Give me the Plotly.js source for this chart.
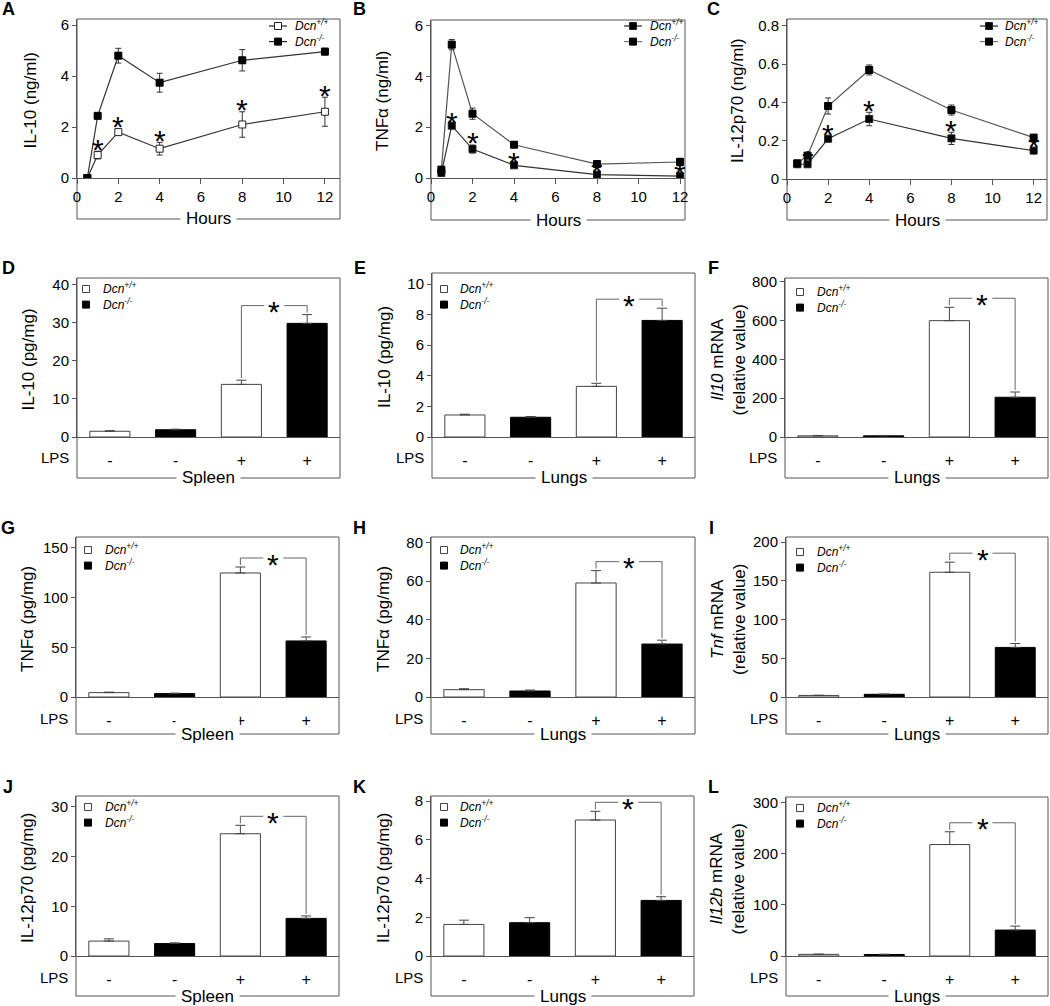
<!DOCTYPE html>
<html><head><meta charset="utf-8">
<script src="https://cdn.plot.ly/plotly-3.0.1.min.js"></script>
<style>html,body{margin:0;padding:0;background:#fff}</style>
</head><body><div id="chart" style="width:1050px;height:1006px"></div>
<script>
// ---------------- data ----------------
const hours = [0.5, 1, 2, 4, 8, 12];
const hourTicks = [0, 2, 4, 6, 8, 10, 12];
const lpsTicks = ['-', '-', '+', '+'];
const nameWT = '<i>Dcn<sup>+/+</sup></i>';
const nameKO = '<i>Dcn<sup>-/-</sup></i>';

// A: serum IL-10 (ng/ml)
const il10SerumWT    = [0, 0.9, 1.8, 1.15, 2.1, 2.6];
const il10SerumWTErr = [0, 0.15, 0.13, 0.25, 0.5, 0.57];
const il10SerumKO    = [0, 2.44, 4.8, 3.74, 4.62, 4.96];
const il10SerumKOErr = [0, 0.1, 0.29, 0.37, 0.42, 0.13];
const il10SerumStars = [1, 2, 4, 8, 12];
// B: serum TNFa (ng/ml)
const tnfSerumWT    = [0.2, 2.06, 1.14, 0.5, 0.13, 0.07];
const tnfSerumWTErr = [0.03, 0.05, 0.16, 0.05, 0.03, 0.03];
const tnfSerumKO    = [0.33, 5.25, 2.53, 1.31, 0.55, 0.63];
const tnfSerumKOErr = [0.05, 0.2, 0.22, 0.1, 0.05, 0.15];
const tnfSerumStars = [1, 2, 4, 8, 12];
// C: serum IL-12p70 (ng/ml)
const il12SerumWT    = [0.077, 0.077, 0.21, 0.313, 0.212, 0.148];
const il12SerumWTErr = [0.01, 0.01, 0.01, 0.035, 0.032, 0.01];
const il12SerumKO    = [0.082, 0.122, 0.381, 0.569, 0.36, 0.216];
const il12SerumKOErr = [0.01, 0.01, 0.042, 0.026, 0.026, 0.015];
const il12SerumStars = [1, 2, 4, 8, 12];

// bar panels: values for LPS - and LPS +
const il10SpleenWT = [1.5, 13.8],  il10SpleenWTErr = [0.15, 1.1];
const il10SpleenKO = [1.9, 29.8],  il10SpleenKOErr = [0.15, 2.3];
const il10LungWT   = [1.44, 3.31], il10LungWTErr   = [0.05, 0.2];
const il10LungKO   = [1.29, 7.62], il10LungKOErr   = [0.05, 0.8];
const il10mRNAWT   = [6, 600],     il10mRNAWTErr   = [2, 69];
const il10mRNAKO   = [6, 205],     il10mRNAKOErr   = [2, 27];
const tnfSpleenWT  = [4.4, 124.8], tnfSpleenWTErr  = [0.5, 6];
const tnfSpleenKO  = [3.4, 56.4],  tnfSpleenKOErr  = [0.5, 4];
const tnfLungWT    = [3.8, 59],    tnfLungWTErr    = [0.5, 6.4];
const tnfLungKO    = [3.1, 27.4],  tnfLungKOErr    = [0.5, 2];
const tnfmRNAWT    = [2, 161],     tnfmRNAWTErr    = [0.3, 13];
const tnfmRNAKO    = [3.5, 64],    tnfmRNAKOErr    = [0.3, 5];
const il12SpleenWT = [3.0, 24.6],  il12SpleenWTErr = [0.45, 1.7];
const il12SpleenKO = [2.5, 7.57],  il12SpleenKOErr = [0.15, 0.5];
const il12LungWT   = [1.63, 7.02], il12LungWTErr   = [0.22, 0.45];
const il12LungKO   = [1.72, 2.87], il12LungKOErr   = [0.26, 0.19];
const il12bmRNAWT  = [3.2, 218],   il12bmRNAWTErr  = [0.5, 25];
const il12bmRNAKO  = [3, 50.7],    il12bmRNAKOErr  = [0.5, 7.8];

// ---------------- layout helpers ----------------
const FONT = 'Liberation Sans, Arial, Helvetica, sans-serif';
const W = 1050, H = 1006;
const AX = '#555';
const px = v => v / W;
const py = v => 1 - v / H;
const LEG_FONT = 12;
const LEG_LINE = LEG_FONT * 1.3;

// box: [left, right, top, zeroLine, bottom] in pixels; leg: [symbolX, textX, row1Y]
const panels = [
 {letter:'A', lxy:[8,9],   kind:'line', box:[77,340,19,178,219], xr:[0,12.73], yr:[0,6.24], yt:[0,2,4,6], title:'IL-10 (ng/ml)', tx:30, foot:'Hours',
  wt:il10SerumWT, wtE:il10SerumWTErr, ko:il10SerumKO, koE:il10SerumKOErr, stars:il10SerumStars, open:true, leg:[278,293,26]},
 {letter:'B', lxy:[359,9], kind:'line', box:[431,685,20,178,220], xr:[0,12.24], yr:[0,6.22], yt:[0,2,4,6], title:'TNFα (ng/ml)', tx:382, foot:'Hours',
  wt:tnfSerumWT, wtE:tnfSerumWTErr, ko:tnfSerumKO, koE:tnfSerumKOErr, stars:tnfSerumStars, open:false, leg:[633,648,26]},
 {letter:'C', lxy:[713,9], kind:'line', box:[787,1047,19,179,220], xr:[0,12.65], yr:[0,0.835], yt:[0,0.2,0.4,0.6,0.8], title:'IL-12p70 (ng/ml)', tx:737, foot:'Hours',
  wt:il12SerumWT, wtE:il12SerumWTErr, ko:il12SerumKO, koE:il12SerumKOErr, stars:il12SerumStars, open:false, leg:[989,1003,26]},
 {letter:'D', lxy:[8,268],   kind:'bar', box:[77,340,278,437,478], yr:[0,41.7], yt:[0,10,20,30,40], title:'IL-10 (pg/mg)', tx:28, foot:'Spleen',
  wt:il10SpleenWT, wtE:il10SpleenWTErr, ko:il10SpleenKO, koE:il10SpleenKOErr, leg:[86,101,289]},
 {letter:'E', lxy:[360,268], kind:'bar', box:[432,695,273,437,478], yr:[0,10.72], yt:[0,2,4,6,8,10], title:'IL-10 (pg/mg)', tx:384, foot:'Lungs',
  wt:il10LungWT, wtE:il10LungWTErr, ko:il10LungKO, koE:il10LungKOErr, leg:[444,458,289]},
 {letter:'F', lxy:[713,268], kind:'bar', box:[785,1048,278,437,478], yr:[0,820], yt:[0,200,400,600,800], title:'<i>Il10</i> mRNA<br>(relative value)', tx:728, foot:'Lungs',
  wt:il10mRNAWT, wtE:il10mRNAWTErr, ko:il10mRNAKO, koE:il10mRNAKOErr, leg:[800,815,292]},
 {letter:'G', lxy:[8,528],   kind:'bar', box:[76,339,537,697,734], yr:[0,161], yt:[0,50,100,150], title:'TNFα (pg/mg)', tx:27, foot:'Spleen',
  wt:tnfSpleenWT, wtE:tnfSpleenWTErr, ko:tnfSpleenKO, koE:tnfSpleenKOErr, leg:[88,103,550]},
 {letter:'H', lxy:[359,528], kind:'bar', box:[431,695,537,697,734], yr:[0,82.8], yt:[0,20,40,60,80], title:'TNFα (pg/mg)', tx:383, foot:'Lungs',
  wt:tnfLungWT, wtE:tnfLungWTErr, ko:tnfLungKO, koE:tnfLungKOErr, leg:[444,458,550]},
 {letter:'I', lxy:[711,528], kind:'bar', box:[786,1048,537,697,734], yr:[0,206.5], yt:[0,50,100,150,200], title:'<i>Tnf</i> mRNA<br>(relative value)', tx:728, foot:'Lungs',
  wt:tnfmRNAWT, wtE:tnfmRNAWTErr, ko:tnfmRNAKO, koE:tnfmRNAKOErr, leg:[800,815,552]},
 {letter:'J', lxy:[8,787],   kind:'bar', box:[76,339,796,956,996], yr:[0,32.2], yt:[0,10,20,30], title:'IL-12p70 (pg/mg)', tx:27, foot:'Spleen',
  wt:il12SpleenWT, wtE:il12SpleenWTErr, ko:il12SpleenKO, koE:il12SpleenKOErr, leg:[88,103,807]},
 {letter:'K', lxy:[359,787], kind:'bar', box:[431,694,796,956,996], yr:[0,8.26], yt:[0,2,4,6,8], title:'IL-12p70 (pg/mg)', tx:383, foot:'Lungs',
  wt:il12LungWT, wtE:il12LungWTErr, ko:il12LungKO, koE:il12LungKOErr, leg:[444,458,807]},
 {letter:'L', lxy:[713,787], kind:'bar', box:[786,1048,797,956,996], yr:[0,311], yt:[0,100,200,300], title:'<i>Il12b</i> mRNA<br>(relative value)', tx:727, foot:'Lungs',
  wt:il12bmRNAWT, wtE:il12bmRNAWTErr, ko:il12bmRNAKO, koE:il12bmRNAKOErr, leg:[800,815,808]}
];

const traces = [];
const layout = {
  width: W, height: H, margin: {l:0, r:0, t:0, b:0},
  paper_bgcolor: '#fff', plot_bgcolor: 'rgba(0,0,0,0)',
  font: {family: FONT, size: 14, color: '#000'},
  barmode: 'overlay', showlegend: false,
  annotations: [], shapes: []
};

function pxRect(cx, cy, s, fill, stroke) {
  layout.shapes.push({type: 'rect', xref: 'paper', yref: 'paper',
    x0: px(cx - s / 2), x1: px(cx + s / 2), y0: py(cy + s / 2), y1: py(cy - s / 2),
    fillcolor: fill, line: {color: stroke, width: 1}});
}
function pxLine(x0, x1, y, color) {
  layout.shapes.push({type: 'line', xref: 'paper', yref: 'paper',
    x0: px(x0), x1: px(x1), y0: py(y), y1: py(y), line: {color: color, width: 1.2}});
}

const STAR = 30;
panels.forEach((p, i) => {
  const n = i + 1;
  const sx = n === 1 ? '' : String(n);
  const xa = 'x' + sx, ya = 'y' + sx;
  const [L, R, T, Z, B] = p.box;
  const isLine = p.kind === 'line';
  const xr = isLine ? p.xr : [-0.5, 3.5];

  layout['xaxis' + sx] = {
    domain: [px(L), px(R)], range: xr, anchor: ya,
    showline: true, linecolor: AX, linewidth: 1, mirror: false,
    ticks: 'outside', ticklen: isLine ? 5 : 9, tickcolor: isLine ? AX : 'rgba(0,0,0,0)', tickwidth: 1,
    tickmode: 'array',
    tickvals: isLine ? hourTicks : [0, 1, 2, 3],
    ticktext: isLine ? hourTicks.map(String) : lpsTicks,
    tickfont: {size: isLine ? 15 : 16, family: FONT},
    showgrid: false, zeroline: false, fixedrange: true
  };
  layout['yaxis' + sx] = {
    domain: [py(Z), py(T)], range: p.yr, anchor: xa,
    showline: true, linecolor: AX, linewidth: 1,
    ticks: 'outside', ticklen: 4, tickcolor: AX, tickwidth: 1,
    tickmode: 'array', tickvals: p.yt,
    tickfont: {size: 15, family: FONT},
    showgrid: false, zeroline: false, fixedrange: true
  };

  // frame around the panel
  layout.shapes.push({type: 'rect', xref: 'paper', yref: 'paper', layer: 'below',
    x0: px(L), x1: px(R), y0: py(B), y1: py(T), line: {color: AX, width: 1}});
  // panel letter
  layout.annotations.push({text: '<b>' + p.letter + '</b>', xref: 'paper', yref: 'paper',
    x: px(p.lxy[0]), y: py(p.lxy[1]), xanchor: 'center', yanchor: 'middle', showarrow: false,
    font: {size: 18, family: FONT}});
  // y title
  layout.annotations.push({text: p.title, xref: 'paper', yref: 'paper', textangle: -90,
    x: px(p.tx), y: py((T + Z) / 2 + 2), xanchor: 'center', yanchor: 'middle', showarrow: false,
    font: {size: 17, family: FONT}});
  // footer label on the frame
  layout.annotations.push({text: p.foot, xref: 'paper', yref: 'paper',
    x: px((L + R) / 2), y: py(B), xanchor: 'center', yanchor: 'middle', showarrow: false,
    bgcolor: '#fff', borderpad: 5, font: {size: 17, family: FONT}});

  // legend (drawn as symbols + one real text block)
  const [lsx, ltx, r1] = p.leg;
  const r2 = r1 + LEG_LINE;
  const wtFill = (isLine && !p.open) ? '#000' : '#fff';
  if (isLine) {
    pxLine(lsx - 9, lsx + 9, r1, '#222');
    pxLine(lsx - 9, lsx + 9, r2, p.open ? '#222' : '#777');
    pxRect(lsx, r1, 7, wtFill, '#222');
    pxRect(lsx, r2, 7, '#000', '#000');
  } else {
    pxRect(lsx, r1, 7, '#fff', '#444');
    pxRect(lsx, r2, 7, '#000', '#000');
  }
  layout.annotations.push({text: nameWT + '<br>' + nameKO, xref: 'paper', yref: 'paper',
    x: px(ltx), y: py((r1 + r2) / 2 - 1), xanchor: 'left', yanchor: 'middle', align: 'left',
    showarrow: false, font: {size: LEG_FONT, family: FONT}});

  const pxPerUnit = (Z - T) / (p.yr[1] - p.yr[0]);

  if (isLine) {
    traces.push({
      type: 'scatter', mode: 'lines+markers', x: hours, y: p.wt, name: 'Dcn+/+',
      xaxis: xa, yaxis: ya,
      line: {color: '#333', width: 1.2},
      marker: {symbol: 'square', size: 7, color: p.open ? '#fff' : '#000', line: {color: '#222', width: 1}},
      error_y: {type: 'data', array: p.wtE, visible: true, color: '#333', thickness: 1, width: 3}
    });
    traces.push({
      type: 'scatter', mode: 'lines+markers', x: hours, y: p.ko, name: 'Dcn-/-',
      xaxis: xa, yaxis: ya,
      line: {color: p.open ? '#333' : '#555', width: 1.2},
      marker: {symbol: 'square', size: 7, color: '#000', line: {color: '#000', width: 1}},
      error_y: {type: 'data', array: p.koE, visible: true, color: '#333', thickness: 1, width: 3}
    });
    p.stars.forEach(h => {
      const k = hours.indexOf(h);
      layout.annotations.push({text: '*', xref: xa, yref: ya, x: h, y: p.wt[k] + p.wtE[k],
        xanchor: 'center', yanchor: 'middle', yshift: 2, showarrow: false,
        font: {size: STAR, family: FONT}});
    });
  } else {
    traces.push({
      type: 'bar', x: [0, 2], y: p.wt, name: 'Dcn+/+', width: 0.61,
      xaxis: xa, yaxis: ya,
      marker: {color: '#fff', line: {color: '#444', width: 1}},
      error_y: {type: 'data', symmetric: false, array: p.wtE, arrayminus: [0, 0], visible: true, color: '#444', thickness: 1, width: 5}
    });
    traces.push({
      type: 'bar', x: [1, 3], y: p.ko, name: 'Dcn-/-', width: 0.61,
      xaxis: xa, yaxis: ya,
      marker: {color: '#000', line: {color: '#000', width: 1}},
      error_y: {type: 'data', symmetric: false, array: p.koE, arrayminus: [0, 0], visible: true, color: '#444', thickness: 1, width: 5}
    });
    // significance bracket between the two LPS+ bars
    const wtTop = p.wt[1] + p.wtE[1];
    const koTop = p.ko[1] + p.koE[1];
    const gap = 2 / pxPerUnit;
    const top = Math.max(wtTop, koTop) + 9 / pxPerUnit;
    const half = 10 / ((R - L) / 4);
    layout.shapes.push({type: 'path', xref: xa, yref: ya, line: {color: '#666', width: 1},
      path: `M2,${wtTop + gap} L2,${top} L${2.5 - half},${top}`});
    layout.shapes.push({type: 'path', xref: xa, yref: ya, line: {color: '#666', width: 1},
      path: `M${2.5 + half},${top} L3,${top} L3,${koTop + gap}`});
    layout.annotations.push({text: '*', xref: xa, yref: ya, x: 2.5, y: top,
      xanchor: 'center', yanchor: 'middle', yshift: -6, showarrow: false,
      font: {size: STAR, family: FONT}});
    // LPS row label
    layout.annotations.push({text: 'LPS', xref: 'paper', yref: 'paper',
      x: px(L - 6), y: py(Z + 21), xanchor: 'right', yanchor: 'middle', showarrow: false,
      font: {size: 15, family: FONT}});
  }
});

Plotly.newPlot('chart', traces, layout, {displayModeBar: false, staticPlot: true});
</script>
</body></html>
